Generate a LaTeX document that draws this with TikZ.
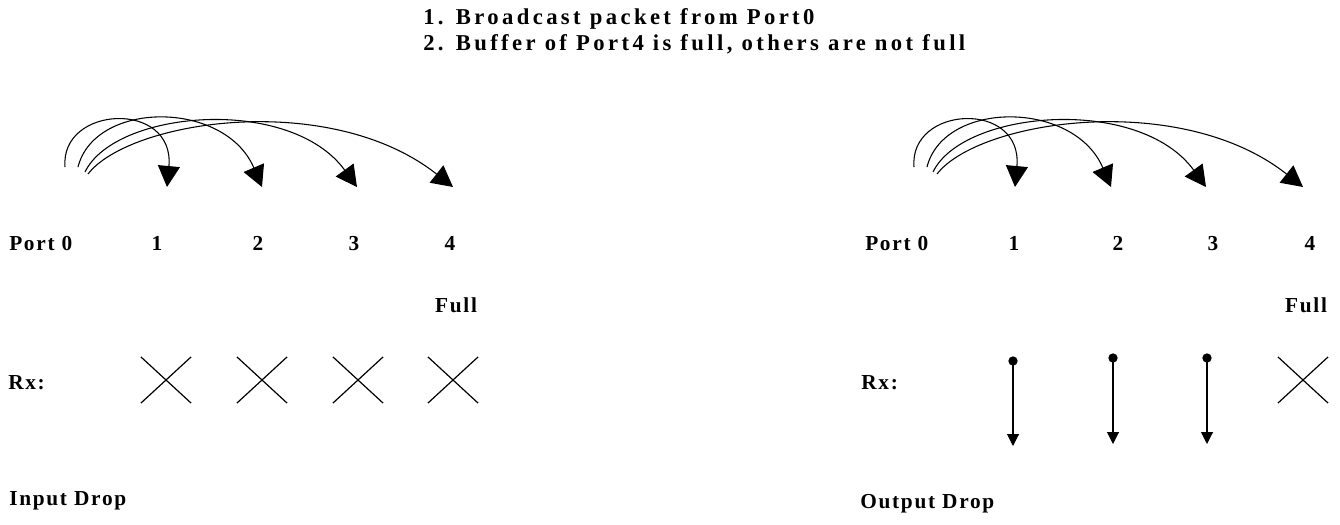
\documentclass[tikz,border=0pt]{standalone}
\usepackage{fontspec}
\setmainfont{Liberation Serif}
\newfontfamily\titlefont[LetterSpace=15]{Liberation Serif}
\newfontfamily\labelfont[LetterSpace=8]{Liberation Serif}
\usetikzlibrary{arrows.meta,shapes.misc}
\begin{document}
\begin{tikzpicture}[x=0.75pt,y=-0.75pt,
  ttl/.style={font=\titlefont\bfseries\fontsize{17}{20}\selectfont, anchor=base west, inner sep=0pt},
  lbl/.style={font=\labelfont\bfseries\fontsize{16}{19}\selectfont, anchor=base west, inner sep=0pt},
  num/.style={font=\labelfont\bfseries\fontsize{16}{19}\selectfont, anchor=base, inner sep=0pt},
  xmark/.style={cross out, draw, line width=0.9pt, minimum width=36.75pt, minimum height=33.75pt, inner sep=0pt},
  dotnode/.style={circle, fill, inner sep=0pt, minimum size=7pt},
  bcast/.style={line width=0.8pt, -{Triangle[length=15.75pt,width=16.5pt]}},
  varrow/.style={line width=0.8pt, -{Triangle[length=9pt,width=9pt]}}]
\useasboundingbox (0,0) rectangle (1340,525);
% title
\node[ttl] (t1) at (423,24) {1. Broadcast packet from Port0};
\node[ttl] (t2) at (423,50) {2. Buffer of Port4 is full, others are not full};
% ---------- left: input drop ----------
\coordinate (ls1) at (65,167);  \coordinate (lt1) at (167,187);
\coordinate (ls2) at (78,167);  \coordinate (lt2) at (262,187);
\coordinate (ls3) at (85,172);  \coordinate (lt3) at (357,187);
\coordinate (ls4) at (88,174);  \coordinate (lt4) at (453,187);
\draw[bcast] (ls1) .. controls (60,105) and (175,100) .. (lt1);
\draw[bcast] (ls2) .. controls (95,100) and (225,100) .. (lt2);
\draw[bcast] (ls3) .. controls (115,110) and (290,95) .. (lt3);
\draw[bcast] (ls4) .. controls (130,120) and (330,90) .. (lt4);
\node[lbl] (lp0) at (9,250) {Port 0};
\node[num] (lp1) at (157,250) {1};
\node[num] (lp2) at (258,250) {2};
\node[num] (lp3) at (354,250) {3};
\node[num] (lp4) at (450,250) {4};
\node[num] (lfull) at (456,312) {Full};
\node[lbl] (lrx) at (8,389) {Rx:};
\node[xmark] (lx1) at (166,380) {};
\node[xmark] (lx2) at (262,380) {};
\node[xmark] (lx3) at (358,380) {};
\node[xmark] (lx4) at (453,380) {};
\node[lbl] (lin) at (9,505) {Input Drop};
% ---------- right: output drop ----------
\coordinate (rs1) at (914,167);  \coordinate (rt1) at (1015,187);
\coordinate (rs2) at (927,167);  \coordinate (rt2) at (1111,187);
\coordinate (rs3) at (933,172);  \coordinate (rt3) at (1206,187);
\coordinate (rs4) at (937,174);  \coordinate (rt4) at (1303,187);
\draw[bcast] (rs1) .. controls (909,105) and (1023,100) .. (rt1);
\draw[bcast] (rs2) .. controls (944,100) and (1074,100) .. (rt2);
\draw[bcast] (rs3) .. controls (963,110) and (1139,95) .. (rt3);
\draw[bcast] (rs4) .. controls (979,120) and (1180,90) .. (rt4);
\node[lbl] (rp0) at (865,250) {Port 0};
\node[num] (rp1) at (1014,250) {1};
\node[num] (rp2) at (1118,250) {2};
\node[num] (rp3) at (1213,250) {3};
\node[num] (rp4) at (1310,250) {4};
\node[num] (rfull) at (1306,312) {Full};
\node[lbl] (rrx) at (861,389) {Rx:};
\node[dotnode] (rd1) at (1013,361) {};
\node[dotnode] (rd2) at (1113,358) {};
\node[dotnode] (rd3) at (1207,358) {};
\coordinate (re1) at (1013,446);
\coordinate (re2) at (1113,444);
\coordinate (re3) at (1207,444);
\draw[varrow] (rd1.center) -- (re1);
\draw[varrow] (rd2.center) -- (re2);
\draw[varrow] (rd3.center) -- (re3);
\node[xmark] (rx4) at (1303,380) {};
\node[lbl] (rout) at (860,508) {Output Drop};
\end{tikzpicture}
\end{document}
